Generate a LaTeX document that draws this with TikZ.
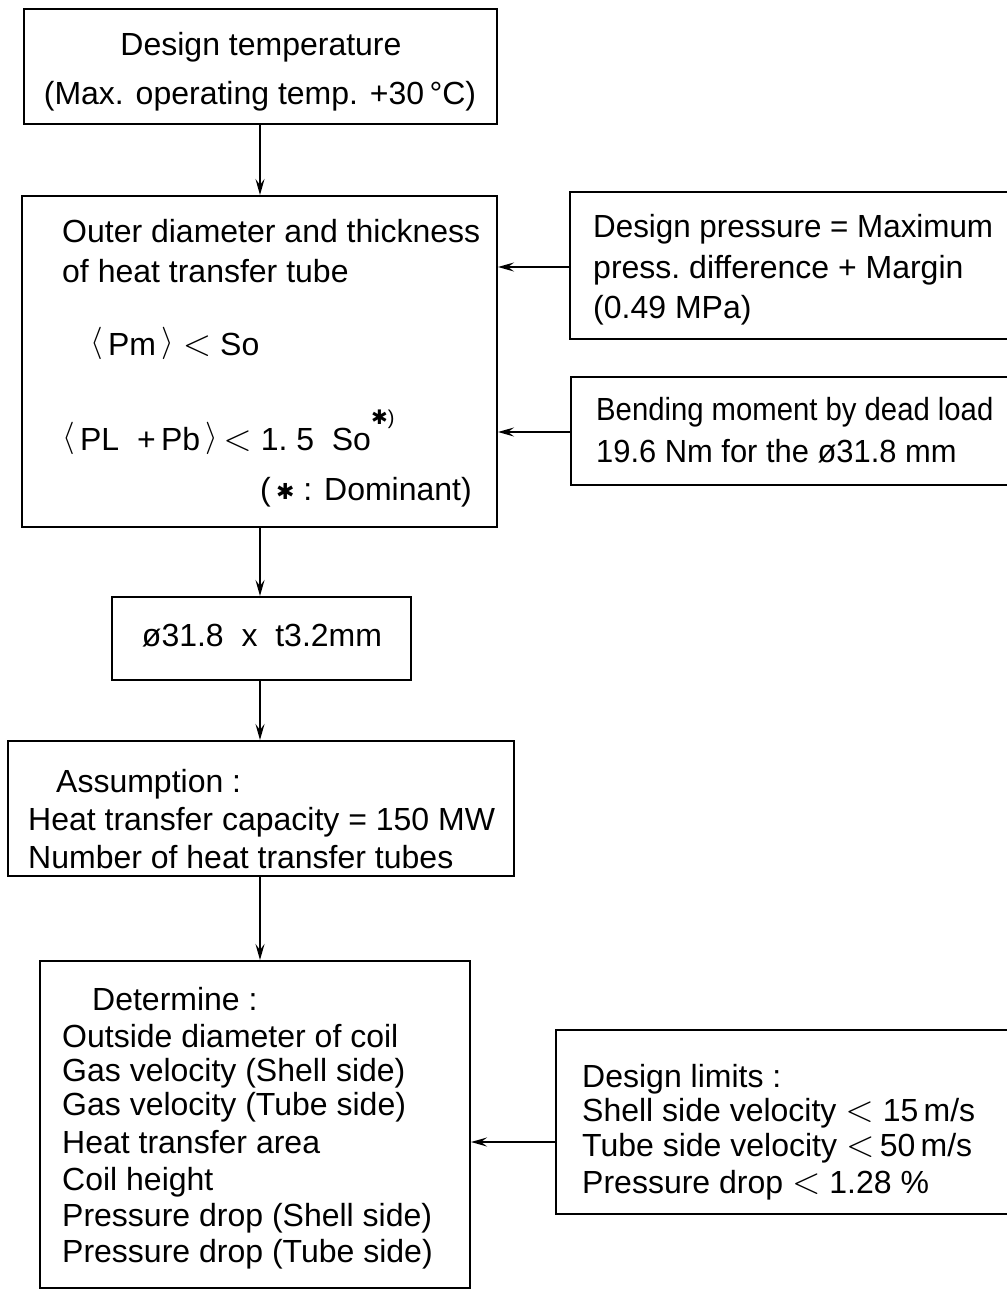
\documentclass[tikz,border=0pt]{standalone}
\usepackage{fontspec}
\setmainfont{Liberation Sans}
\newfontfamily\djfont{DejaVu Sans}
\usetikzlibrary{arrows.meta}
\newcommand\myla{\raisebox{4pt}{\scalebox{1.3}{$\langle$}}}
\newcommand\myra{\raisebox{4pt}{\scalebox{1.3}{$\rangle$}}}
\newcommand\mylt{\scalebox{1.5}{$<$}}
\newcommand\mystar[1]{{\djfont\fontsize{#1}{#1}\selectfont ✱}}
\begin{document}
\begin{tikzpicture}[x=1pt,y=-1pt,
  box/.style={draw,line width=2pt,inner sep=0pt,rectangle},
  txt/.style={anchor=base west,inner sep=0pt,font=\fontsize{32}{36}\selectfont},
  ctxt/.style={anchor=base,inner sep=0pt,font=\fontsize{32}{36}\selectfont},
  rtxt/.style={anchor=base east,inner sep=0pt,font=\fontsize{32}{36}\selectfont},
  arr/.style={line width=2pt,-{Stealth[length=16pt,width=9pt,inset=6pt]}}]
\useasboundingbox (0,0) rectangle (1006,1289);
\fill[white] (0,0) rectangle (1006,1289);
% boxes
\node[box,minimum width=473pt,minimum height=115pt] (b1) at (260.5,66.5) {};
\node[box,minimum width=475pt,minimum height=331pt] (b2) at (259.5,361.5) {};
\node[box,minimum width=299pt,minimum height=83pt] (b3) at (261.5,638.5) {};
\node[box,minimum width=506pt,minimum height=135pt] (b4) at (261,808.5) {};
\node[box,minimum width=430pt,minimum height=327pt] (b5) at (255,1124.5) {};
\node[box,minimum width=442pt,minimum height=147pt] (bA) at (791,265.5) {};
\node[box,minimum width=441pt,minimum height=108pt] (bB) at (791.5,431) {};
\node[box,minimum width=456pt,minimum height=184pt] (bC) at (784,1122) {};
% texts
\node[ctxt] (t11) at (261,56) {Design temperature};
\node[ctxt] (t12) at (260,105) {(Max. operating temp. +30\,°C)};
\node[txt] (t21) at (62,243) {Outer diameter and thickness};
\node[txt] (t22) at (62,282) {of heat transfer tube};
\node[txt] (t23) at (90,355) {\myla\,Pm\,\myra\ \mylt\ So};
\node[txt] (t24) at (62,450) {\myla\,PL\ \ +\,Pb\,\myra\,\mylt\ 1.\ 5\ \ So\raisebox{26pt}{\mystar{20}\fontsize{20}{20}\selectfont)}};
\node[rtxt] (t25) at (472,500) {(\,\raisebox{1pt}{\mystar{22}}\ : Dominant)};
\node[ctxt] (t31) at (262,646) {ø31.8\ \ x\ \ t3.2mm};
\node[txt] (t41) at (56,792) {Assumption :};
\node[txt] (t42) at (28,830) {Heat transfer capacity = 150 MW};
\node[txt] (t43) at (28,868) {Number of heat transfer tubes};
\node[txt] (t50) at (92,1010) {Determine :};
\node[txt] (t51) at (62,1047) {Outside diameter of coil};
\node[txt] (t52) at (62,1081) {Gas velocity (Shell side)};
\node[txt] (t53) at (62,1115) {Gas velocity (Tube side)};
\node[txt] (t54) at (62,1153) {Heat transfer area};
\node[txt] (t55) at (62,1190) {Coil height};
\node[txt] (t56) at (62,1226) {Pressure drop (Shell side)};
\node[txt] (t57) at (62,1262) {Pressure drop (Tube side)};
\node[txt] (tA1) at (593,238) {\scalebox{0.98}[1]{Design pressure = Maximum}};
\node[txt] (tA2) at (593,278) {press.\ difference + Margin};
\node[txt] (tA3) at (593,318) {(0.49 MPa)};
\node[txt] (tB1) at (596,420) {\scalebox{0.915}[1]{Bending moment by dead load}};
\node[txt] (tB2) at (596,462) {\scalebox{0.965}[1]{19.6 Nm for the ø31.8 mm}};
\node[txt] (tC1) at (582,1087) {Design limits :};
\node[txt] (tC2) at (582,1121) {Shell side velocity \mylt\ 15\,m/s};
\node[txt] (tC3) at (582,1156) {Tube side velocity \mylt\,50\,m/s};
\node[txt] (tC4) at (582,1193) {Pressure drop \mylt\ 1.28 \%};
% connectors
\coordinate (ax) at (260,0);
\coordinate (ya) at (0,267);
\coordinate (yb) at (0,432);
\coordinate (yc) at (0,1142);
\draw[arr] (b1.south -| ax) -- (b2.north -| ax);
\draw[arr] (b2.south -| ax) -- (b3.north -| ax);
\draw[arr] (b3.south -| ax) -- (b4.north -| ax);
\draw[arr] (b4.south -| ax) -- (b5.north -| ax);
\draw[arr] (bA.west |- ya) -- (b2.east |- ya);
\draw[arr] (bB.west |- yb) -- (b2.east |- yb);
\draw[arr] (bC.west |- yc) -- (b5.east |- yc);
\end{tikzpicture}
\end{document}
